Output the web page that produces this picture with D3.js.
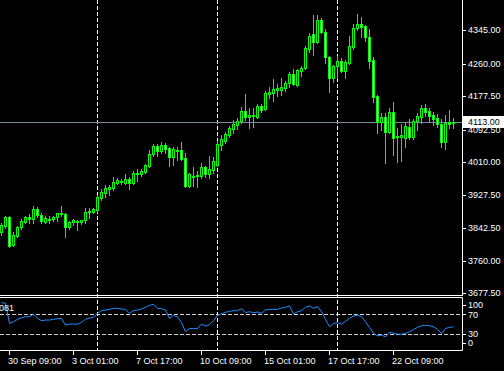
<!DOCTYPE html>
<html><head><meta charset="utf-8">
<script src="https://cdn.jsdelivr.net/npm/d3@7"></script>
<style>
html,body{margin:0;padding:0;background:#000;}
svg{display:block;}
text{font-family:"Liberation Sans",Arial,sans-serif;font-size:9px;fill:#fff;}
</style></head>
<body><svg id="c" width="504" height="371"></svg>
<script>
const opens = [3833,3848,3871,3800,3823,3846,3858,3871,3866,3891,
3876,3858,3866,3866,3871,3879,3879,3846,3858,3861,
3858,3863,3884,3884,3889,3919,3932,3942,3944,3957,
3962,3957,3967,3957,3980,3980,3985,4000,4031,4051,
4038,4053,4046,4023,4038,4041,4021,3950,3972,3975,
3975,3998,3980,3990,4003,4053,4064,4079,4094,4104,
4114,4140,4124,4127,4124,4152,4145,4183,4185,4193,
4193,4198,4211,4233,4206,4241,4249,4297,4335,4315,
4370,4340,4277,4223,4254,4266,4241,4261,4302,4350,
4360,4355,4327,4269,4178,4112,4124,4086,4137,4076,
4074,4071,4099,4074,4114,4124,4147,4140,4129,4122,
4107,4061,4112,4109];
const highs = [3856,3873,3873,3833,3848,3866,3873,3879,3899,3896,
3881,3873,3873,3873,3881,3899,3881,3861,3866,3863,
3863,3894,3894,3894,3927,3942,3952,3952,3972,3970,
3967,3980,3972,3988,3993,3993,4005,4041,4056,4056,
4061,4059,4048,4048,4048,4061,4033,3982,3998,3988,
4008,4000,4026,4023,4064,4079,4086,4102,4117,4122,
4150,4183,4147,4147,4157,4157,4190,4200,4221,4208,
4223,4216,4238,4246,4246,4254,4304,4337,4383,4383,
4375,4348,4279,4256,4279,4274,4269,4330,4360,4386,
4378,4358,4348,4277,4180,4135,4135,4147,4162,4097,
4107,4109,4119,4119,4135,4155,4157,4147,4137,4132,
4119,4129,4142,4122];
const lows = [3825,3843,3795,3797,3820,3841,3856,3856,3856,3871,
3856,3856,3856,3861,3861,3873,3820,3841,3851,3838,
3853,3856,3868,3881,3884,3914,3922,3927,3939,3955,
3955,3955,3942,3955,3962,3975,3982,3998,4026,4026,
4033,4033,4000,4003,4015,4015,3947,3947,3950,3947,
3970,3972,3970,3982,4000,4041,4059,4074,4084,4094,
4109,4117,4097,4099,4122,4137,4142,4173,4165,4178,
4180,4190,4200,4206,4203,4228,4246,4289,4282,4312,
4337,4261,4188,4213,4223,4239,4223,4259,4297,4345,
4327,4317,4249,4162,4084,4091,4008,4084,4028,4010,
4013,4048,4069,4069,4091,4109,4127,4112,4104,4099,
4048,4043,4097,4097];
const closes = [3851,3871,3797,3825,3846,3861,3871,3866,3891,3876,
3861,3868,3863,3871,3881,3881,3846,3858,3863,3858,
3863,3884,3886,3891,3922,3934,3944,3947,3960,3965,
3960,3967,3957,3982,3982,3988,4003,4031,4051,4038,
4053,4043,4023,4043,4041,4018,3950,3980,3975,3977,
3998,3980,3993,4013,4056,4069,4081,4097,4107,4114,
4140,4124,4130,4130,4152,4142,4185,4188,4195,4198,
4200,4211,4233,4208,4244,4249,4299,4330,4315,4370,
4340,4277,4223,4254,4266,4241,4264,4304,4350,4360,
4353,4327,4266,4175,4112,4124,4086,4137,4071,4074,
4079,4102,4074,4114,4127,4147,4137,4127,4119,4107,
4061,4109,4107,4113];
const oscValues = [93.6,92.3,51.7,55.1,59.8,63.2,65.2,65.2,70.0,61.9,
57.1,58.5,58.5,59.8,61.2,61.9,48.3,50.3,50.3,50.3,
53.7,59.8,62.5,63.9,72.0,77.4,78.8,80.1,82.2,82.2,
80.8,80.1,72.0,77.4,78.8,80.8,84.2,88.2,90.3,82.2,
81.5,78.8,61.9,67.9,65.2,53.1,34.8,41.5,41.5,41.5,
50.3,46.3,49.0,57.1,67.9,71.3,74.0,76.1,77.4,77.4,
81.5,73.4,75.4,73.4,74.7,72.0,78.8,80.1,80.1,80.1,
82.8,84.2,86.9,70.6,75.4,77.4,84.2,86.9,82.2,85.5,
75.4,59.8,44.9,51.7,53.1,50.3,55.8,61.9,66.6,68.6,
65.2,55.1,43.6,31.4,26.7,28.0,24.6,34.1,31.4,30.0,
30.0,31.4,34.8,39.5,43.6,47.0,47.6,47.0,44.9,39.5,
31.4,41.5,43.6,44.9];
const priceTicks = [3677.5,3760,3842.5,3927.5,4010,4092.5,4177.5,4260,4345];
const oscTicks = [100,70,30,0];
const oscLevels = [70,30];
const timeLabels = ["30 Sep 09:00","3 Oct 01:00","7 Oct 17:00","10 Oct 09:00","15 Oct 01:00","17 Oct 17:00","22 Oct 09:00"];
const timeLabelIdx = [2,18,34,50,66,82,98];
const weekSeparatorIdx = [24,54,84];
const lastPrice = 4113;
const indicatorLabel = "081";

const svg = d3.select("#c");
const n = opens.length;
const x = d3.scaleLinear().domain([0, n-1]).range([1, 1+4*(n-1)]);
const y = d3.scaleLinear().domain([3677.5, 4345]).range([293.3, 30]);
const yo = d3.scaleLinear().domain([0, 100]).range([349, 299.5]);
const GREEN = "#00ff00";
const R = 462.5;

// separators
svg.append("g").selectAll("line").data(weekSeparatorIdx).join("line")
  .attr("x1", d => x(d)+0.5).attr("x2", d => x(d)+0.5)
  .attr("y1", 0).attr("y2", 350)
  .attr("stroke", "#fff").attr("stroke-dasharray", "4,2");

// oscillator levels
svg.append("g").selectAll("line").data(oscLevels).join("line")
  .attr("x1", 0).attr("x2", R)
  .attr("y1", d => Math.round(yo(d))+0.5).attr("y2", d => Math.round(yo(d))+0.5)
  .attr("stroke", "#d0d0d0").attr("stroke-dasharray", "4,2");

// bid line
svg.append("line").attr("x1", 0).attr("x2", R)
  .attr("y1", Math.round(y(lastPrice))+0.5).attr("y2", Math.round(y(lastPrice))+0.5)
  .attr("stroke", "#778899");

// candles
const idx = d3.range(n);
const cg = svg.append("g");
cg.selectAll("line.w").data(idx).join("line").attr("class","w")
  .attr("x1", i => x(i)+0.5).attr("x2", i => x(i)+0.5)
  .attr("y1", i => Math.round(y(highs[i]))).attr("y2", i => Math.round(y(lows[i]))+1)
  .attr("stroke", GREEN);
cg.selectAll("rect").data(idx).join("rect")
  .attr("x", i => x(i)-0.5).attr("width", 2)
  .attr("y", i => Math.round(y(Math.max(opens[i],closes[i])))+0.5)
  .attr("height", i => Math.max(0, Math.round(y(Math.min(opens[i],closes[i]))) - Math.round(y(Math.max(opens[i],closes[i])))))
  .attr("fill", i => closes[i] >= opens[i] ? "#000" : "#fff")
  .attr("stroke", GREEN);

// oscillator line
svg.append("path").datum(oscValues)
  .attr("d", d3.line().x((d,i) => x(i)+0.5).y(d => yo(d)))
  .attr("fill", "none").attr("stroke", "#1e90ff").attr("stroke-width", 1);

// frames
const fr = svg.append("g").attr("stroke", "#fff").attr("fill","none");
fr.append("line").attr("x1", R).attr("x2", R).attr("y1", 0).attr("y2", 296);
fr.append("line").attr("x1", 0).attr("x2", R).attr("y1", 295.5).attr("y2", 295.5);
fr.append("line").attr("x1", 0).attr("x2", R).attr("y1", 297.5).attr("y2", 297.5);
fr.append("line").attr("x1", R).attr("x2", R).attr("y1", 297.5).attr("y2", 350.5);
fr.append("line").attr("x1", 0).attr("x2", R).attr("y1", 350.5).attr("y2", 350.5);

// price axis
const pa = svg.append("g");
pa.selectAll("line").data(priceTicks).join("line")
  .attr("x1", 463).attr("x2", 466)
  .attr("y1", d => Math.round(y(d))+0.5).attr("y2", d => Math.round(y(d))+0.5)
  .attr("stroke", "#fff");
pa.selectAll("text").data(priceTicks).join("text")
  .attr("x", 468).attr("y", d => y(d)).attr("dy", "0.35em")
  .text(d => d3.format(".2f")(d));

// last price label
svg.append("rect").attr("x", 463).attr("y", Math.round(y(lastPrice))-6).attr("width", 41).attr("height", 12).attr("fill", "#fff");
svg.append("text").attr("x", 468).attr("y", y(lastPrice)).attr("dy","0.35em")
  .style("fill","#000").text(d3.format(".2f")(lastPrice));

// oscillator axis
const clampY = v => Math.min(Math.max(yo(v), 305), 342.7);
const oa = svg.append("g");
oa.selectAll("line").data(oscTicks).join("line")
  .attr("x1", 463).attr("x2", 466)
  .attr("y1", d => Math.round(clampY(d))+0.5).attr("y2", d => Math.round(clampY(d))+0.5)
  .attr("stroke", "#fff");
oa.selectAll("text").data(oscTicks).join("text")
  .attr("x", 468).attr("y", d => clampY(d)).attr("dy", "0.35em").text(d => d);

svg.append("text").attr("x", -1).attr("y", 307.5).attr("dy","0.35em").text(indicatorLabel);

// time axis
const ta = svg.append("g");
ta.selectAll("line").data(timeLabelIdx).join("line")
  .attr("x1", i => x(i)+0.5).attr("x2", i => x(i)+0.5)
  .attr("y1", 350).attr("y2", 355).attr("stroke", "#fff");
ta.selectAll("text").data(timeLabelIdx).join("text")
  .attr("x", i => x(i)-1).attr("y", 360.5).attr("dy","0.35em")
  .text((d,k) => timeLabels[k]);
</script></body></html>
